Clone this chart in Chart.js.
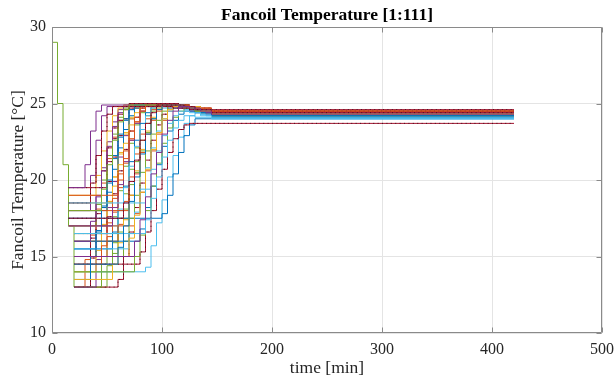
<!DOCTYPE html>
<html><head><meta charset="utf-8">
<script src="https://cdn.jsdelivr.net/npm/chart.js@4/dist/chart.umd.min.js"></script>
<style>html,body{margin:0;padding:0;background:#fff}#wrap{width:615px;height:384px;position:relative}</style>
</head><body><div id="wrap"><canvas id="c" width="615" height="384"></canvas></div>
<script>
// ---- text ----
const titleText = 'Fancoil Temperature [1:111]';
const xLabel = 'time [min]';
const yLabel = 'Fancoil Temperature [°C]';
const xTicks = [0, 100, 200, 300, 400, 500];
const yTicks = [10, 15, 20, 25, 30];
const endMin = 420; // every trace is held at its last value up to here

// ---- step traces: [minute, temperature] where the value applies from that minute on ----
const s01 = [[0,29],[5,25],[10,21],[15,17],[20,13],[50,14.4],[55,15.9],[60,17.5],[65,19.1],[70,20.7],[75,22.1],[80,23.3],[85,24.2],[90,24.7],[95,24.9],[120,24.8],[130,24.6],[140,24.4],[145,24.3]];
const s02 = [[20,13],[30,14.8],[35,16.4],[40,18.1],[45,19.8],[50,21.4],[55,22.8],[60,23.9],[65,24.6],[70,24.9],[115,24.8],[125,24.7],[135,24.6],[145,24.5]];
const s03 = [[20,13],[60,13.5],[65,15],[70,16.6],[75,18.2],[80,19.8],[85,21.3],[90,22.6],[95,23.6],[100,24.3],[105,24.7],[110,24.9],[125,24.8],[135,24.6],[145,24.4]];
const s04 = [[20,13],[35,14.9],[40,16.5],[45,18.2],[50,19.9],[55,21.5],[60,22.9],[65,24],[70,24.7],[75,25],[115,24.9],[125,24.7],[135,24.5],[145,24.4]];
const s05 = [[20,13],[45,14.5],[50,16],[55,17.6],[60,19.3],[65,20.9],[70,22.4],[75,23.6],[80,24.4],[85,24.8],[120,24.7],[130,24.5],[140,24.3],[145,24.2]];
const s06 = [[20,13],[40,14.8],[45,16.5],[50,18.2],[55,19.9],[60,21.5],[65,22.9],[70,24],[75,24.7],[80,24.9],[115,24.8],[130,24.5],[145,24.3]];
const s07 = [[20,14],[55,15.2],[60,16.6],[65,18.1],[70,19.7],[75,21.2],[80,22.6],[85,23.7],[90,24.5],[95,24.9],[125,24.7],[135,24.4],[145,24.3]];
const s08 = [[20,14],[85,14.3],[90,15.7],[95,17.2],[100,18.7],[105,20.2],[110,21.6],[115,22.8],[120,23.7],[125,24.2],[130,24.4],[140,24.2],[145,24.1]];
const s09 = [[20,14],[40,15.4],[45,17],[50,18.6],[55,20.2],[60,21.7],[65,23],[70,24],[75,24.7],[80,24.9],[120,24.8],[130,24.6],[140,24.4],[145,24.3]];
const s10 = [[20,15],[35,16.2],[40,17.8],[45,19.5],[50,21.2],[55,22.7],[60,23.9],[65,24.6],[70,24.9],[110,24.8],[125,24.6],[135,24.5],[145,24.4]];
const s11 = [[20,15],[50,16.3],[55,17.9],[60,19.5],[65,21.1],[70,22.6],[75,23.8],[80,24.5],[85,24.9],[120,24.8],[130,24.6],[140,24.4],[145,24.3]];
const s12 = [[20,15.5],[40,16.7],[45,18.2],[50,19.8],[55,21.4],[60,22.8],[65,23.9],[70,24.6],[75,24.9],[115,24.8],[125,24.6],[135,24.4],[145,24.2]];
const s13 = [[20,15.5],[55,16.6],[60,18],[65,19.6],[70,21.2],[75,22.6],[80,23.7],[85,24.4],[90,24.8],[120,24.7],[130,24.4],[145,24.1]];
const s14 = [[20,16],[45,17.1],[50,18.6],[55,20.2],[60,21.8],[65,23.1],[70,24.1],[75,24.7],[80,24.9],[115,24.8],[130,24.5],[145,24.4]];
const s15 = [[20,16],[60,17.1],[65,18.6],[70,20.2],[75,21.7],[80,23],[85,24],[90,24.6],[95,24.9],[120,24.8],[130,24.6],[140,24.4]];
const s16 = [[20,16.5],[50,17.6],[55,19.1],[60,20.6],[65,22],[70,23.2],[75,24.1],[80,24.7],[85,24.9],[120,24.8],[130,24.6],[140,24.5],[145,24.4]];
const s17 = [[20,16.5],[65,17.5],[70,19],[75,20.5],[80,21.9],[85,23.1],[90,24],[95,24.6],[100,24.9],[120,24.8],[135,24.5],[145,24.3]];
const s18 = [[15,17],[60,18.1],[65,19.5],[70,20.9],[75,22.2],[80,23.3],[85,24.2],[90,24.7],[120,24.6],[135,24.3],[145,24.1]];
const s19 = [[15,17],[40,18.4],[45,20],[50,21.6],[55,23],[60,24.1],[65,24.7],[70,24.9],[115,24.8],[130,24.5],[145,24.3]];
const s20 = [[15,17],[75,17.8],[80,19.2],[85,20.6],[90,21.9],[95,23],[100,23.9],[105,24.5],[110,24.8],[125,24.7],[135,24.5],[145,24.4]];
const s21 = [[15,17.5],[40,19],[45,20.8],[50,22.5],[55,23.8],[60,24.6],[65,24.9],[115,24.8],[125,24.6],[135,24.4],[145,24.2]];
const s22 = [[15,17.5],[100,17.8],[105,19],[110,20.4],[115,21.8],[120,22.9],[125,23.6],[130,24]];
const s23 = [[15,18],[35,20.3],[40,22.6],[45,24.2],[50,24.8],[110,24.7],[125,24.5],[140,24.3],[145,24.2]];
const s24 = [[15,18],[50,19.2],[55,20.7],[60,22.1],[65,23.3],[70,24.2],[75,24.7],[80,24.9],[120,24.8],[130,24.6],[140,24.4],[145,24.3]];
const s25 = [[15,18.5],[55,19.6],[60,21],[65,22.4],[70,23.6],[75,24.4],[80,24.9],[120,24.8],[130,24.6],[140,24.4]];
const s26 = [[15,19],[40,20.3],[45,21.9],[50,23.2],[55,24.2],[60,24.7],[65,24.9],[115,24.8],[125,24.6],[135,24.5]];
const s27 = [[15,19.5],[45,20.6],[50,22.1],[55,23.4],[60,24.3],[65,24.8],[70,25],[115,24.9],[125,24.8],[135,24.7],[145,24.6]];
const s28 = [[15,19.5],[30,21],[35,23.2],[40,24.5],[45,24.9],[110,24.8],[125,24.6],[140,24.4],[145,24.3]];
const s29 = [[15,18],[70,19],[75,20.4],[80,21.8],[85,23],[90,23.9],[95,24.5],[100,24.9],[125,24.8],[135,24.6],[145,24.5]];
const s30 = [[20,15],[65,16],[70,17.5],[75,19],[80,20.5],[85,21.9],[90,23],[95,23.9],[100,24.5],[105,24.8],[125,24.7],[135,24.4],[145,24.2]];
const s31 = [[20,16],[80,16.8],[85,18.2],[90,19.6],[95,21],[100,22.2],[105,23.2],[110,23.9],[115,24.3],[120,24.5],[130,24.4],[145,24.1]];
const s32 = [[20,15.5],[70,16.5],[75,17.9],[80,19.4],[85,20.8],[90,22.1],[95,23.2],[100,24],[105,24.5],[110,24.7],[125,24.6],[135,24.3],[145,24]];
const s33 = [[20,14.5],[80,15.3],[85,16.6],[90,18],[95,19.4],[100,20.7],[105,21.8],[110,22.7],[115,23.3],[120,23.6],[125,23.7]];
const s34 = [[20,16],[35,17.3],[40,18.9],[45,20.6],[50,22.2],[55,23.5],[60,24.4],[65,24.8],[115,24.7],[130,24.5],[145,24.3]];
const s35 = [[20,14.5],[45,15.7],[50,17.2],[55,18.8],[60,20.4],[65,21.9],[70,23.2],[75,24.1],[80,24.7],[85,24.9],[120,24.8],[130,24.7],[145,24.5]];
const s36 = [[20,15],[70,16.2],[75,17.7],[80,19.2],[85,20.7],[90,22],[95,23.1],[100,24],[105,24.6],[110,24.8],[125,24.7],[135,24.5],[145,24.3]];
const s37 = [[20,14],[75,15],[80,16.4],[85,18],[90,19.6],[95,21.1],[100,22.4],[105,23.4],[110,24.1],[115,24.5],[120,24.7],[130,24.5],[145,24.2]];
const s38 = [[20,13.5],[35,15],[40,16.6],[45,18.3],[50,20],[55,21.6],[60,23],[65,24],[70,24.6],[75,24.9],[115,24.8],[125,24.6],[135,24.4],[145,24.2]];
const s39 = [[20,16.5],[85,17.4],[90,18.8],[95,20.2],[100,21.5],[105,22.6],[110,23.4],[115,23.9],[120,24.2],[130,24.1],[145,24]];
const s40 = [[15,17],[55,18.2],[60,19.7],[65,21.2],[70,22.6],[75,23.7],[80,24.5],[85,24.9],[120,24.8],[130,24.6],[140,24.4]];
const s41 = [[15,18.5],[35,19.8],[40,21.6],[45,23.2],[50,24.3],[55,24.8],[110,24.7],[125,24.6],[135,24.5]];
const s42 = [[15,19],[60,20],[65,21.4],[70,22.7],[75,23.8],[80,24.5],[85,24.9],[120,24.8],[130,24.7],[145,24.5]];
const s43 = [[15,18],[45,19.4],[50,21],[55,22.6],[60,23.8],[65,24.6],[70,24.9],[115,24.8],[130,24.5],[145,24.3]];
const s44 = [[20,13.5],[55,14.5],[60,15.9],[65,17.4],[70,19],[75,20.6],[80,22],[85,23.2],[90,24.1],[95,24.7],[100,24.9],[120,24.8],[135,24.5],[145,24.3]];
const s45 = [[20,14.5],[60,15.6],[65,17],[70,18.6],[75,20.2],[80,21.7],[85,23],[90,24],[95,24.6],[100,24.9],[120,24.8],[130,24.6],[145,24.2]];
const s46 = [[15,18.5],[85,19.4],[90,20.7],[95,21.9],[100,22.9],[105,23.7],[110,24.2],[115,24.5],[125,24.4],[135,24.2],[145,24.1]];
const s47 = [[15,17.5],[65,18.5],[70,19.9],[75,21.3],[80,22.6],[85,23.7],[90,24.4],[95,24.9],[120,24.8],[130,24.6],[145,24.4]];
const s48 = [[20,15],[75,16],[80,17.4],[85,18.9],[90,20.4],[95,21.8],[100,23],[105,23.9],[110,24.5],[115,24.8],[125,24.7],[135,24.5],[145,24.3]];

const traces = [s01,s02,s03,s04,s05,s06,s07,s08,s09,s10,s11,s12,s13,s14,s15,s16,s17,s18,s19,s20,s21,s22,s23,s24,
                s25,s26,s27,s28,s29,s30,s31,s32,s33,s34,s35,s36,s37,s38,s39,s40,s41,s42,s43,s44,s45,s46,s47,s48];

// ---- style ----
const palette = ['#0072BD','#D95319','#EDB120','#7E2F8E','#77AC30','#4DBEEE','#A2142F'];
const colorIdx = [4,1,6,6,4,3,4,5,2,6,1,0,0,2,1,6,4,5,4,1,3,0,3,0,2,2,6,3,1,4,0,5,6,3,1,2,4,0,5,3,6,1,4,2,0,5,6,3];
const FONT = '"Liberation Serif", "Times New Roman", serif';
const axisColor = '#8a8a8a';
const gridColor = '#e4e4e4';
const textColor = '#262626';

function toPoints(tr) {
  const pts = tr.map(p => ({x: p[0], y: p[1]}));
  pts.push({x: endMin, y: tr[tr.length - 1][1]});
  return pts;
}

const datasets = [];
traces.forEach((tr, i) => {
  datasets.push({
    data: toPoints(tr),
    borderColor: palette[colorIdx[i]],
    borderWidth: 1,
    pointRadius: 0,
    stepped: 'before',
    fill: false,
    order: 2 * (traces.length - i)
  });
  // the dark-red traces show a dotted sample pattern in the reference
  if (colorIdx[i] === 6) {
    datasets.push({
      data: toPoints(tr),
      borderColor: '#4a0f1c',
      borderWidth: 1,
      borderDash: [1, 3.4],
      pointRadius: 0,
      stepped: 'before',
      fill: false,
      order: 2 * (traces.length - i) - 1
    });
  }
});

const decor = {
  id: 'decor',
  afterDatasetsDraw(chart) {
    const {ctx, chartArea: a, scales: {x, y}} = chart;
    ctx.save();
    ctx.strokeStyle = axisColor;
    ctx.lineWidth = 1;
    const L = Math.round(a.left) + 0.5, R = Math.round(a.right) - 0.5;
    const T = Math.round(a.top) + 0.5, B = Math.round(a.bottom) - 0.5;
    ctx.beginPath();
    ctx.moveTo(L, T); ctx.lineTo(R, T); ctx.lineTo(R, B); ctx.lineTo(L, B); ctx.closePath();
    const tl = 5;
    yTicks.forEach(v => {
      const py = Math.round(y.getPixelForValue(v)) + 0.5;
      ctx.moveTo(L, py); ctx.lineTo(L + tl, py);
      ctx.moveTo(R, py); ctx.lineTo(R - tl, py);
    });
    xTicks.forEach(v => {
      const px = Math.round(x.getPixelForValue(v)) + 0.5;
      ctx.moveTo(px, B); ctx.lineTo(px, B - tl);
      ctx.moveTo(px, T); ctx.lineTo(px, T + tl);
    });
    ctx.stroke();
    ctx.restore();
  },
  afterDraw(chart) {
    const {ctx, chartArea: a} = chart;
    const cx = (a.left + a.right) / 2;
    ctx.save();
    ctx.textAlign = 'center';
    ctx.textBaseline = 'middle';
    ctx.fillStyle = '#000';
    ctx.font = 'bold 17.5px ' + FONT;
    ctx.fillText(titleText, cx, 15);
    ctx.fillStyle = textColor;
    ctx.font = '17.5px ' + FONT;
    ctx.fillText(xLabel, cx, 368);
    ctx.translate(18, (a.top + a.bottom) / 2);
    ctx.rotate(-Math.PI / 2);
    ctx.fillText(yLabel, 0, 0);
    ctx.restore();
  }
};

new Chart(document.getElementById('c'), {
  type: 'line',
  data: {datasets},
  options: {
    responsive: false,
    animation: false,
    devicePixelRatio: 1,
    parsing: false,
    layout: {padding: {top: 27, right: 13, left: 0, bottom: 0}},
    plugins: {legend: {display: false}, tooltip: {enabled: false}, title: {display: false}},
    elements: {line: {tension: 0}},
    scales: {
      x: {
        type: 'linear', min: 0, max: 500,
        afterBuildTicks: s => { s.ticks = xTicks.map(v => ({value: v})); },
        afterFit: s => { s.height = 51; s.paddingLeft = 0; s.paddingRight = 0; },
        grid: {color: gridColor, drawTicks: false, lineWidth: 1},
        border: {display: false},
        ticks: {font: {family: FONT, size: 16}, color: textColor, padding: 7, maxRotation: 0, autoSkip: false}
      },
      y: {
        type: 'linear', min: 10, max: 30,
        afterBuildTicks: s => { s.ticks = yTicks.map(v => ({value: v})); },
        afterFit: s => { s.width = 52; s.paddingTop = 0; s.paddingBottom = 0; },
        grid: {color: gridColor, drawTicks: false, lineWidth: 1},
        border: {display: false},
        ticks: {font: {family: FONT, size: 16}, color: textColor, padding: 6, autoSkip: false}
      }
    }
  },
  plugins: [decor]
});
</script>
</body></html>
